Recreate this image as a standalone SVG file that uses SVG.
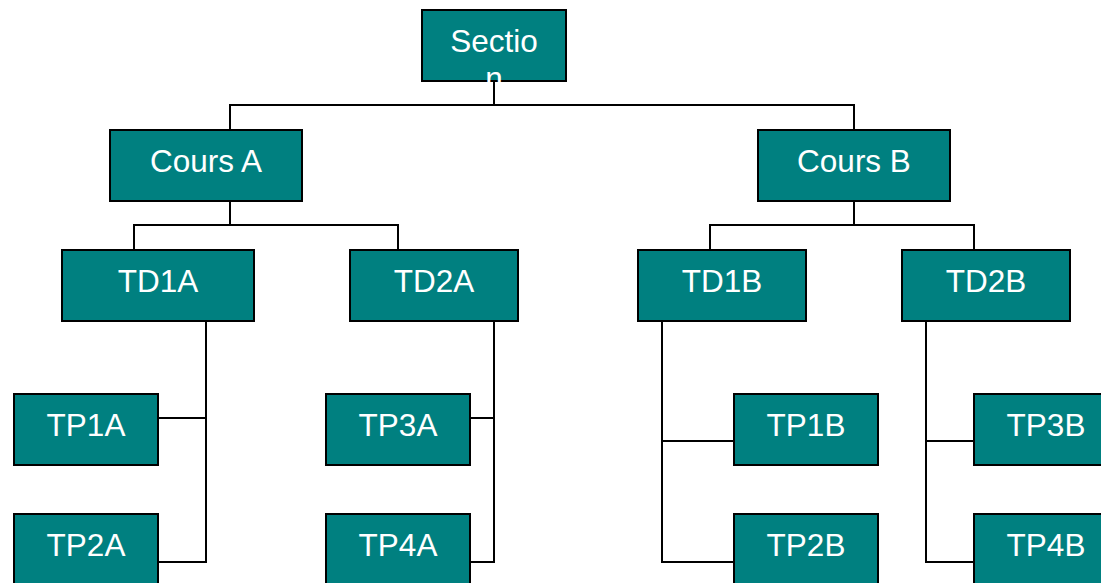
<svg xmlns="http://www.w3.org/2000/svg" width="1101" height="583" viewBox="0 0 1101 583">
<style>
.box{fill:#008080;stroke:#000;stroke-width:2}
.lbl{fill:#fff;font-family:"Liberation Sans",Arial,sans-serif;font-size:31.5px;text-anchor:middle}
.conn{fill:none;stroke:#000;stroke-width:2}
</style>
<rect width="1101" height="583" fill="#fff"/>
<g id="section"><rect class="box" x="422" y="10" width="144" height="71"/><text class="lbl" x="494" y="52">Sectio</text><text class="lbl" x="494" y="89">n</text></g>
<g id="coursA"><rect class="box" x="110" y="130" width="192" height="71"/><text class="lbl" x="206" y="172">Cours A</text></g>
<g id="coursB"><rect class="box" x="758" y="130" width="192" height="71"/><text class="lbl" x="854" y="172">Cours B</text></g>
<g id="td1a"><rect class="box" x="62" y="250" width="192" height="71"/><text class="lbl" x="158" y="292">TD1A</text></g>
<g id="td2a"><rect class="box" x="350" y="250" width="168" height="71"/><text class="lbl" x="434" y="292">TD2A</text></g>
<g id="td1b"><rect class="box" x="638" y="250" width="168" height="71"/><text class="lbl" x="722" y="292">TD1B</text></g>
<g id="td2b"><rect class="box" x="902" y="250" width="168" height="71"/><text class="lbl" x="986" y="292">TD2B</text></g>
<g id="tp1a"><rect class="box" x="14" y="394" width="144" height="71"/><text class="lbl" x="86" y="436">TP1A</text></g>
<g id="tp2a"><rect class="box" x="14" y="514" width="144" height="71"/><text class="lbl" x="86" y="556">TP2A</text></g>
<g id="tp3a"><rect class="box" x="326" y="394" width="144" height="71"/><text class="lbl" x="398" y="436">TP3A</text></g>
<g id="tp4a"><rect class="box" x="326" y="514" width="144" height="71"/><text class="lbl" x="398" y="556">TP4A</text></g>
<g id="tp1b"><rect class="box" x="734" y="394" width="144" height="71"/><text class="lbl" x="806" y="436">TP1B</text></g>
<g id="tp2b"><rect class="box" x="734" y="514" width="144" height="71"/><text class="lbl" x="806" y="556">TP2B</text></g>
<g id="tp3b"><rect class="box" x="974" y="394" width="144" height="71"/><text class="lbl" x="1046" y="436">TP3B</text></g>
<g id="tp4b"><rect class="box" x="974" y="514" width="144" height="71"/><text class="lbl" x="1046" y="556">TP4B</text></g>
<g id="connectors" class="conn">
<path d="M494 81V105M230 130V105H854V130"/>
<path d="M230 201V225M134 250V225H398V250"/>
<path d="M854 201V225M710 250V225H974V250"/>
<path d="M206 321V562H158M158 418H206"/>
<path d="M494 321V562H470M470 418H494"/>
<path d="M662 321V562H734M662 441H734"/>
<path d="M926 321V562H974M926 441H974"/>
</g>
</svg>
